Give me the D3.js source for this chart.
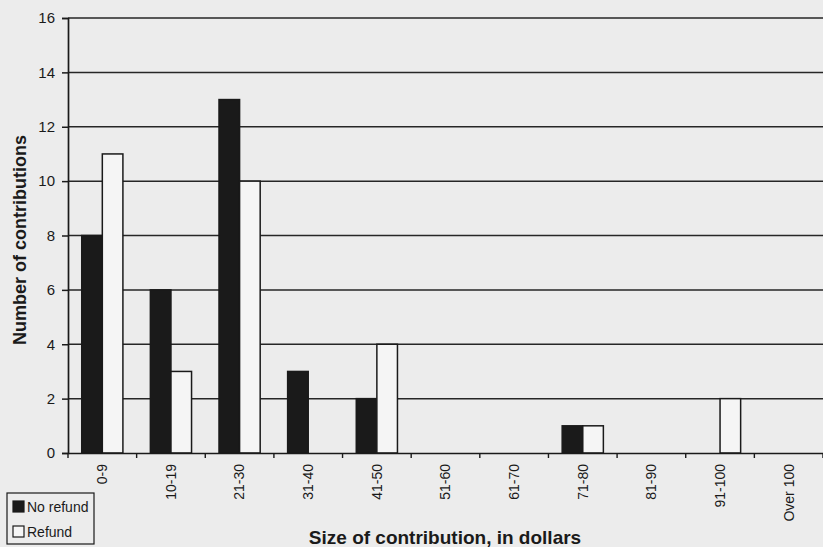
<!DOCTYPE html>
<html>
<head>
<script src="https://d3js.org/d3.v7.min.js"></script>
<style>
  body { margin: 0; background: #ececec; }
  text { font-family: "Liberation Sans", Arial, sans-serif; fill: #1a1a1a; }
</style>
</head>
<body>
<svg class="chart"></svg>
<script>
var categories = ["0-9", "10-19", "21-30", "31-40", "41-50", "51-60", "61-70", "71-80", "81-90", "91-100", "Over 100"];
var noRefund = [8, 6, 13, 3, 2, 0, 0, 1, 0, 0, 0];
var refund = [11, 3, 10, 0, 4, 0, 0, 1, 0, 2, 0];
var seriesNames = ["No refund", "Refund"];
var yTicks = [0, 2, 4, 6, 8, 10, 12, 14, 16];

var svgWidth = 823, svgHeight = 547,
    margin = {top: 18, right: 0, bottom: 94, left: 68},
    width = svgWidth - margin.left - margin.right,
    height = svgHeight - margin.top - margin.bottom;

var rows = categories.map((c, i) => ({cat: c, values: [noRefund[i], refund[i]]}));

var x0 = d3.scaleBand().domain(categories).range([0, width]).paddingInner(0.4).paddingOuter(0.2);
var x1 = d3.scaleBand().domain([0, 1]).range([0, x0.bandwidth()]);
var y = d3.scaleLinear().domain([0, 16]).range([height, 0]);
var fills = ["#1a1a1a", "#f5f5f5"];

var svg = d3.select(".chart")
    .attr("width", svgWidth)
    .attr("height", svgHeight)
    .style("background", "#ececec");

var g = svg.append("g")
    .attr("transform", "translate(" + margin.left + "," + margin.top + ")");

// horizontal gridlines
g.selectAll(".grid")
    .data(yTicks.filter(d => d > 0)).enter().append("line")
        .attr("x1", 0).attr("x2", width)
        .attr("y1", d => y(d)).attr("y2", d => y(d))
        .attr("stroke", "#262626")
        .attr("stroke-width", 1.5);

// bars
var groups = g.selectAll(".grp")
    .data(rows).enter().append("g")
        .attr("transform", d => "translate(" + x0(d.cat) + ",0)");

groups.selectAll("rect")
    .data(d => d.values.map((v, i) => ({i: i, v: v})).filter(d => d.v > 0))
    .enter().append("rect")
        .attr("x", d => x1(d.i))
        .attr("y", d => y(d.v))
        .attr("width", x1.bandwidth())
        .attr("height", d => y(0) - y(d.v))
        .attr("fill", d => fills[d.i])
        .attr("stroke", "#1a1a1a")
        .attr("stroke-width", 1.5);

// y axis
var yAxis = d3.axisLeft(y).tickValues(yTicks).tickSize(6).tickPadding(7);
var ya = g.append("g").call(yAxis);
ya.select(".domain").attr("stroke", "#1a1a1a").attr("stroke-width", 1.7);
ya.selectAll(".tick line").attr("stroke", "#1a1a1a").attr("stroke-width", 1.5);
ya.selectAll("text").style("font-size", "15px").attr("fill", "#1a1a1a");

// x axis: labels at band centres, ticks at band boundaries
var xAxis = d3.axisBottom(x0).tickSize(0).tickPadding(10);
var xa = g.append("g").attr("transform", "translate(0," + height + ")").call(xAxis);
xa.select(".domain").attr("stroke", "#1a1a1a").attr("stroke-width", 1.7);
xa.selectAll("text")
    .style("font-size", "14px")
    .attr("fill", "#1a1a1a")
    .attr("transform", "rotate(-90)")
    .attr("text-anchor", "end")
    .attr("x", -11)
    .attr("y", 0)
    .attr("dy", "0.35em");

var step = x0.step();
xa.selectAll(".bound")
    .data(d3.range(categories.length + 1)).enter().append("line")
        .attr("x1", d => d * step).attr("x2", d => d * step)
        .attr("y1", 0).attr("y2", 5)
        .attr("stroke", "#1a1a1a")
        .attr("stroke-width", 1.4);

// axis titles
svg.append("text")
    .attr("transform", "translate(26,240) rotate(-90)")
    .attr("text-anchor", "middle")
    .style("font-size", "18px")
    .style("font-weight", "bold")
    .text("Number of contributions");

svg.append("text")
    .attr("x", 445)
    .attr("y", 544)
    .attr("text-anchor", "middle")
    .style("font-size", "19px")
    .style("font-weight", "bold")
    .text("Size of contribution, in dollars");

// legend
var legend = svg.append("g").attr("transform", "translate(7,493)");
legend.append("rect")
    .attr("width", 87).attr("height", 51)
    .attr("fill", "none")
    .attr("stroke", "#1a1a1a")
    .attr("stroke-width", 1.2);

var items = legend.selectAll(".item")
    .data(seriesNames).enter().append("g")
        .attr("transform", (d, i) => "translate(6," + (8 + i * 25) + ")");
items.append("rect")
    .attr("width", 11).attr("height", 11)
    .attr("fill", (d, i) => fills[i])
    .attr("stroke", "#1a1a1a")
    .attr("stroke-width", 1.2);
items.append("text")
    .attr("x", 14).attr("y", 11)
    .style("font-size", "14px")
    .text(d => d);
</script>
</body>
</html>
